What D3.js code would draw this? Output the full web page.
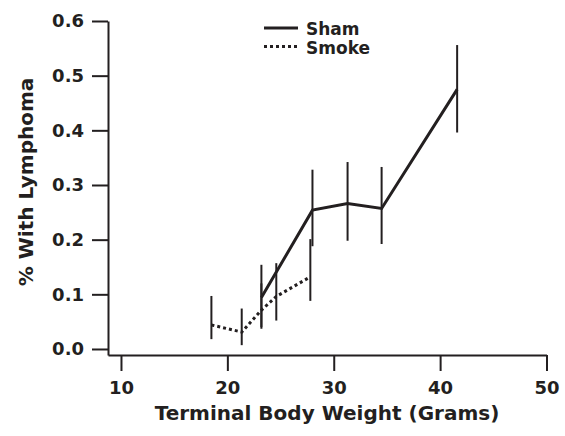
<!DOCTYPE html>
<html>
<head>
<meta charset="utf-8">
<script src="https://cdn.jsdelivr.net/npm/d3@7"></script>
<style>
  body { margin: 0; background: #fff; }
  svg { display: block; }
  text { font-family: "DejaVu Sans", sans-serif; font-weight: bold; fill: #231f20; }
</style>
</head>
<body>
<svg width="565" height="436"></svg>
<script>
// values
const shamX  = [23.2, 28.0, 31.3, 34.5, 41.6];
const shamY  = [0.094, 0.254, 0.266, 0.257, 0.475];
const shamLo = [0.037, 0.188, 0.198, 0.192, 0.396];
const shamHi = [0.154, 0.328, 0.342, 0.333, 0.556];

const smokeX  = [18.5, 21.35, 23.2, 24.6, 27.8];
const smokeY  = [0.044, 0.031, 0.071, 0.096, 0.132];
const smokeLo = [0.018, 0.007, 0.040, 0.052, 0.088];
const smokeHi = [0.097, 0.074, 0.120, 0.157, 0.201];

const xTicks = [10, 20, 30, 40, 50];
const yTicks = [0, 0.1, 0.2, 0.3, 0.4, 0.5, 0.6];

const ink = '#231f20';
const svg = d3.select('svg');

const x = d3.scaleLinear().domain([8.78, 50]).range([108, 546.5]);
const y = d3.scaleLinear().domain([-0.011, 0.6]).range([355, 21]);

const toRows = (xs, ys, lo, hi) => xs.map((v, i) => ({x: v, y: ys[i], lo: lo[i], hi: hi[i]}));
const series = [
  {name: 'Sham', rows: toRows(shamX, shamY, shamLo, shamHi), dash: null},
  {name: 'Smoke', rows: toRows(smokeX, smokeY, smokeLo, smokeHi), dash: '3,3'}
];

// axes
const xAxis = svg.append('g')
    .attr('transform', 'translate(0,355)')
    .call(d3.axisBottom(x).tickValues(xTicks).tickSize(16).tickSizeOuter(0).tickPadding(10));
const yAxis = svg.append('g')
    .attr('transform', 'translate(108,0)')
    .call(d3.axisLeft(y).tickValues(yTicks).tickFormat(d3.format('.1f')).tickSize(16).tickSizeOuter(0).tickPadding(8));

[xAxis, yAxis].forEach(a => {
  a.select('.domain').attr('stroke', ink).attr('stroke-width', 2);
  a.selectAll('.tick line').attr('stroke', ink).attr('stroke-width', 2);
  a.selectAll('.tick text').style('font-size', '18px');
});

// error bars
series.forEach(s => {
  svg.append('g').selectAll('line')
    .data(s.rows)
    .join('line')
      .attr('x1', d => x(d.x)).attr('x2', d => x(d.x))
      .attr('y1', d => y(d.lo)).attr('y2', d => y(d.hi))
      .attr('stroke', ink)
      .attr('stroke-width', 2);
});

// lines
const line = d3.line().x(d => x(d.x)).y(d => y(d.y));
series.forEach(s => {
  svg.append('path')
    .datum(s.rows)
    .attr('d', line)
    .attr('fill', 'none')
    .attr('stroke', ink)
    .attr('stroke-width', 3)
    .attr('stroke-dasharray', s.dash);
});

// legend
const legend = svg.append('g').attr('transform', 'translate(264,28)');
series.forEach((s, i) => {
  const row = legend.append('g').attr('transform', `translate(0,${i * 18.5})`);
  row.append('line')
    .attr('x1', 0).attr('x2', 34)
    .attr('stroke', ink).attr('stroke-width', 3)
    .attr('stroke-dasharray', s.dash);
  row.append('text')
    .attr('x', 42).attr('y', 7)
    .style('font-size', '17px')
    .text(s.name);
});

// axis titles
svg.append('text')
    .attr('x', 327).attr('y', 420)
    .attr('text-anchor', 'middle')
    .style('font-size', '20px')
    .text('Terminal Body Weight (Grams)');

svg.append('text')
    .attr('transform', 'translate(33,182) rotate(-90)')
    .attr('text-anchor', 'middle')
    .style('font-size', '20px')
    .text('% With Lymphoma');
</script>
</body>
</html>
